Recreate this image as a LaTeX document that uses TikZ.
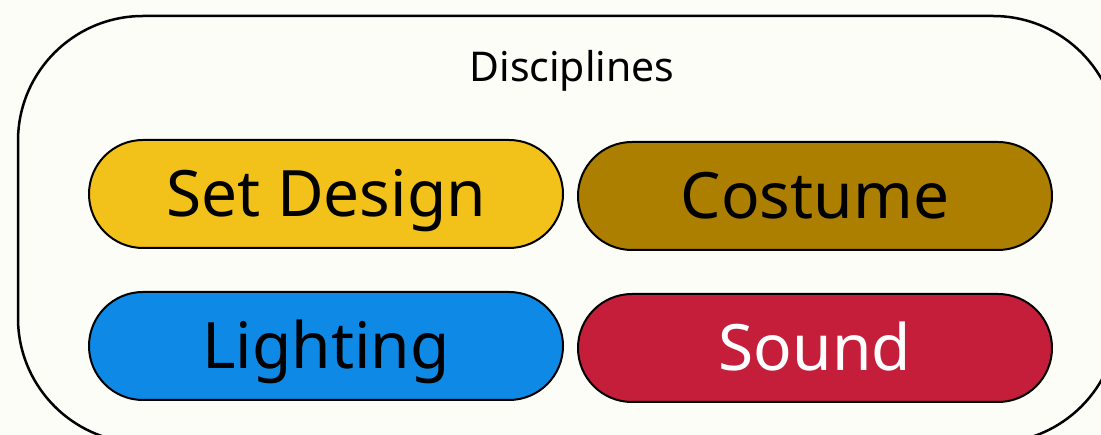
\documentclass[tikz,border=0pt]{standalone}
\usepackage{fontspec}
\setmainfont{Noto Sans}
\definecolor{bgpaper}{HTML}{FDFDF8}
\definecolor{setyellow}{HTML}{F2C21B}
\definecolor{costumegold}{HTML}{AD7F00}
\definecolor{lightblue}{HTML}{0E8AE6}
\definecolor{soundred}{HTML}{C41E3A}
\tikzset{
  pill/.style={draw=black, line width=2pt, rounded corners=54pt,
    minimum width=474pt, minimum height=108pt, inner sep=0pt,
    text height=45.7pt, text depth=0pt,
    font=\fontsize{64}{70}\selectfont},
  frame/.style={draw=black, line width=2.5pt, rounded corners=125pt}
}
\begin{document}
\begin{tikzpicture}[x=1pt, y=-1pt]
  \useasboundingbox (0,0) rectangle (1101,435);
  \fill[bgpaper] (0,0) rectangle (1101,435);
  \begin{scope}
    \clip (0,0) rectangle (1101,435);
    \draw[frame] (18,16) rectangle (1118,443);
  \end{scope}
  \node[font=\fontsize{41}{46}\selectfont, text height=29.3pt, text depth=0pt, inner sep=0pt]
    (title) at (572,67) {Disciplines};
  \node[pill, fill=setyellow] (setdesign) at (326,194) {Set Design};
  \node[pill, fill=costumegold] (costume) at (815,196) {Costume};
  \node[pill, fill=lightblue] (lighting) at (326,346) {Lighting};
  \node[pill, fill=soundred, text=white] (sound) at (815,348) {Sound};
\end{tikzpicture}
\end{document}
